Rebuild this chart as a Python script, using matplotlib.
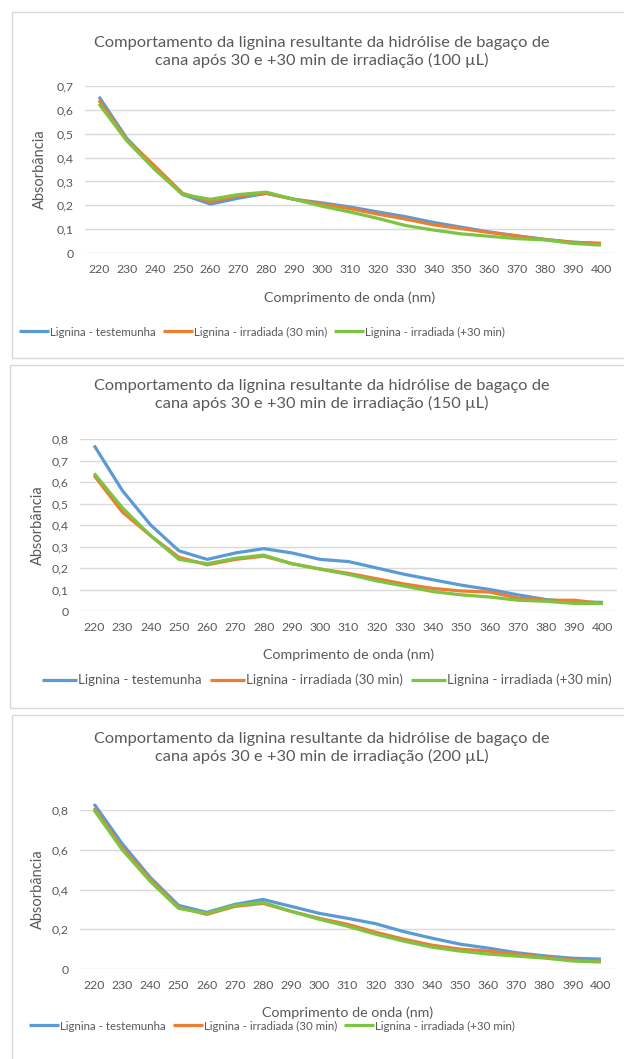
import matplotlib
matplotlib.use("Agg")
import matplotlib.pyplot as plt
from matplotlib.patches import Rectangle

plt.rcParams["font.family"] = ["Lato", "DejaVu Sans"]

W, H = 624, 1059

wavelengths = [220, 230, 240, 250, 260, 270, 280, 290, 300, 310,
               320, 330, 340, 350, 360, 370, 380, 390, 400]

series_names = ["Lignina - testemunha", "Lignina - irradiada (30 min)",
                "Lignina - irradiada (+30 min)"]

# 100 uL
p100_testemunha = [0.655, 0.48, 0.36, 0.245, 0.205, 0.23, 0.25, 0.225, 0.21, 0.193,
                   0.172, 0.152, 0.128, 0.108, 0.088, 0.072, 0.057, 0.045, 0.04]
p100_30min = [0.64, 0.475, 0.365, 0.25, 0.215, 0.24, 0.25, 0.225, 0.205, 0.186,
              0.163, 0.142, 0.118, 0.102, 0.086, 0.071, 0.056, 0.045, 0.04]
p100_mais30 = [0.625, 0.47, 0.35, 0.245, 0.225, 0.245, 0.255, 0.225, 0.196, 0.172,
               0.145, 0.115, 0.096, 0.08, 0.07, 0.06, 0.055, 0.04, 0.033]

# 150 uL
p150_testemunha = [0.77, 0.56, 0.40, 0.28, 0.24, 0.27, 0.29, 0.27, 0.24, 0.23,
                   0.20, 0.17, 0.145, 0.12, 0.10, 0.075, 0.053, 0.042, 0.04]
p150_30min = [0.63, 0.46, 0.35, 0.25, 0.215, 0.24, 0.255, 0.22, 0.195, 0.175,
              0.15, 0.125, 0.105, 0.093, 0.088, 0.06, 0.05, 0.05, 0.035]
p150_mais30 = [0.64, 0.48, 0.35, 0.24, 0.22, 0.245, 0.26, 0.22, 0.195, 0.17,
               0.14, 0.115, 0.09, 0.075, 0.065, 0.05, 0.045, 0.035, 0.035]

# 200 uL
p200_testemunha = [0.83, 0.63, 0.46, 0.32, 0.285, 0.325, 0.35, 0.315, 0.28, 0.255,
                   0.228, 0.188, 0.155, 0.125, 0.105, 0.082, 0.066, 0.054, 0.05]
p200_30min = [0.81, 0.61, 0.45, 0.31, 0.275, 0.315, 0.33, 0.29, 0.255, 0.225,
              0.185, 0.15, 0.12, 0.1, 0.09, 0.075, 0.06, 0.045, 0.04]
p200_mais30 = [0.80, 0.60, 0.44, 0.305, 0.28, 0.32, 0.335, 0.29, 0.25, 0.215,
               0.175, 0.14, 0.11, 0.09, 0.075, 0.065, 0.055, 0.04, 0.035]

volumes = ["100 µL", "150 µL", "200 µL"]
panel_data = [
    [p100_testemunha, p100_30min, p100_mais30],
    [p150_testemunha, p150_30min, p150_mais30],
    [p200_testemunha, p200_30min, p200_mais30],
]
y_ticks = [
    [0, 0.1, 0.2, 0.3, 0.4, 0.5, 0.6, 0.7],
    [0, 0.1, 0.2, 0.3, 0.4, 0.5, 0.6, 0.7, 0.8],
    [0, 0.2, 0.4, 0.6, 0.8],
]

colors = ["#5B9BD5", "#ED7D31", "#7DC443"]
text_col = "#595959"
grid_col = "#D9D9D9"

# pixel layout of each panel: box (x0, y0, x1, y1), plot area (left, top, right, bottom),
# title centre y, x label y, legend centre (x, y), y label x, legend font size
layouts = [
    dict(box=(12, 12, 626, 358), plot=(85, 86, 615, 253), title=52, xlab=298,
         leg=(262, 332), ylab=40, legfs=8.3),
    dict(box=(10, 365, 626, 708), plot=(80, 439, 617, 611), title=395, xlab=655,
         leg=(327, 680), ylab=38, legfs=9.6),
    dict(box=(12, 715, 626, 1062), plot=(80, 810, 615, 969), title=748, xlab=1013,
         leg=(272, 1026), ylab=38, legfs=8.3),
]

fig = plt.figure(figsize=(W / 100, H / 100), dpi=100)


def fx(x):
    return x / W


def fy(y):
    return 1 - y / H


for vol, data, ticks, lay in zip(volumes, panel_data, y_ticks, layouts):
    bx0, by0, bx1, by1 = lay["box"]
    fig.patches.append(Rectangle((fx(bx0), fy(by1)), fx(bx1 - bx0), (by1 - by0) / H,
                                 transform=fig.transFigure, fill=False,
                                 edgecolor=grid_col, lw=1))
    l, t, r, b = lay["plot"]
    ax = fig.add_axes([fx(l), fy(b), fx(r - l), (b - t) / H])
    handles = []
    for vals, c, name in zip(data, colors, series_names):
        h, = ax.plot(wavelengths, vals, color=c, lw=2.3, label=name, clip_on=False,
                     solid_joinstyle="round", solid_capstyle="butt")
        handles.append(h)
    ax.set_xlim(215, 405)
    ax.set_ylim(0, ticks[-1])
    ax.set_xticks(wavelengths)
    ax.set_yticks(ticks)
    ax.set_yticklabels([("%g" % v).replace(".", ",") for v in ticks])
    ax.grid(axis="y", color=grid_col, lw=1)
    ax.set_axisbelow(True)
    for s in ax.spines.values():
        s.set_visible(False)
    ax.tick_params(length=0, labelsize=8.8, labelcolor=text_col)
    ax.tick_params(axis="x", pad=8)
    ax.tick_params(axis="y", pad=8)

    fig.text(fx(322), fy(lay["title"]),
             "Comportamento da lignina resultante da hidrólise de bagaço de\n"
             "cana após 30 e +30 min de irradiação (%s)" % vol,
             ha="center", va="center", fontsize=11.8, color=text_col, linespacing=1.3)
    fig.text(fx(0.5 * (l + r)), fy(lay["xlab"]), "Comprimento de onda (nm)",
             ha="center", va="center", fontsize=10.3, color=text_col)
    fig.text(fx(lay["ylab"]), fy(0.5 * (t + b)), "Absorbância", rotation=90,
             ha="center", va="center", fontsize=10.5, color=text_col)
    fig.legend(handles=handles, loc="center", ncol=3, frameon=False,
               bbox_to_anchor=(fx(lay["leg"][0]), fy(lay["leg"][1])),
               fontsize=lay["legfs"], labelcolor=text_col, handlelength=2.6,
               handletextpad=0.1, columnspacing=0.6)

fig.savefig("out.png", dpi=100)
